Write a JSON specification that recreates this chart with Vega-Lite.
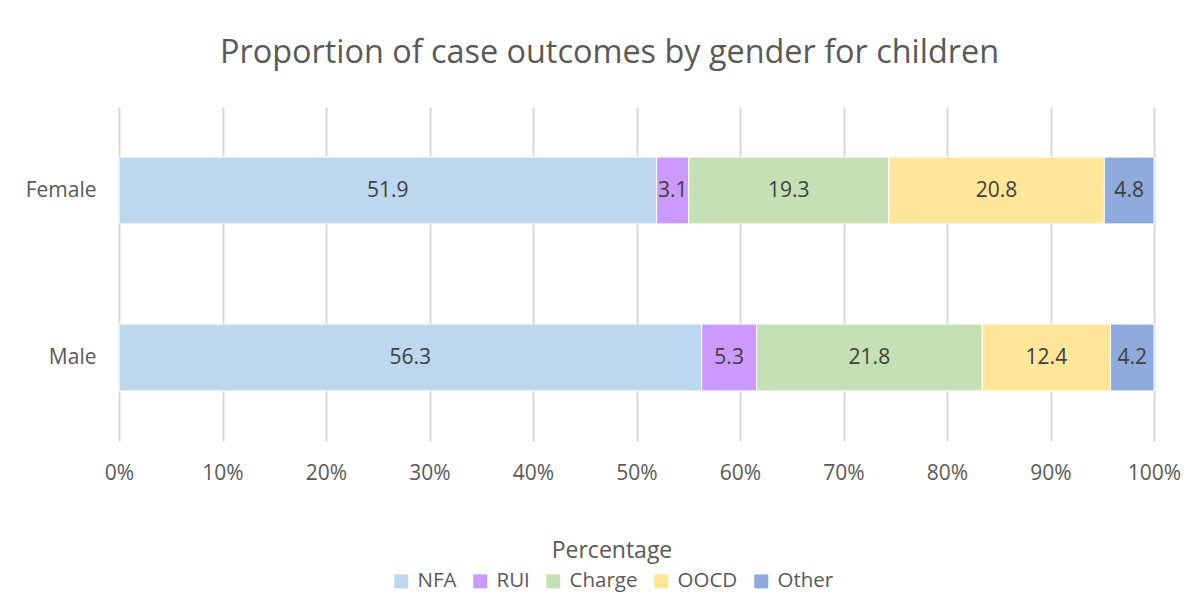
{
  "$schema": "https://vega.github.io/schema/vega-lite/v6.json",
  "autosize": "none",
  "width": 1035,
  "height": 334,
  "padding": {"left": 119, "top": 107, "right": 50, "bottom": 173},
  "background": "white",
  "config": {
    "font": "Open Sans",
    "view": {"stroke": null},
    "axis": {"labelColor": "#595959", "domain": false, "ticks": false}
  },
  "title": {
    "text": "Proportion of case outcomes by gender for children",
    "fontSize": 32.4,
    "font": "Open Sans",
    "fontWeight": "normal",
    "color": "#595959",
    "anchor": "middle",
    "dx": -27,
    "offset": 38
  },
  "data": {
    "values": [
      {"gender": "Female", "outcome": "NFA", "k": 1, "value": 51.9},
      {"gender": "Female", "outcome": "RUI", "k": 2, "value": 3.1},
      {"gender": "Female", "outcome": "Charge", "k": 3, "value": 19.3},
      {"gender": "Female", "outcome": "OOCD", "k": 4, "value": 20.8},
      {"gender": "Female", "outcome": "Other", "k": 5, "value": 4.8},
      {"gender": "Male", "outcome": "NFA", "k": 1, "value": 56.3},
      {"gender": "Male", "outcome": "RUI", "k": 2, "value": 5.3},
      {"gender": "Male", "outcome": "Charge", "k": 3, "value": 21.8},
      {"gender": "Male", "outcome": "OOCD", "k": 4, "value": 12.4},
      {"gender": "Male", "outcome": "Other", "k": 5, "value": 4.2}
    ]
  },
  "encoding": {
    "y": {
      "field": "gender",
      "type": "nominal",
      "sort": ["Female", "Male"],
      "scale": {"paddingInner": 0.6, "paddingOuter": 0.3},
      "axis": {"title": null, "labelFontSize": 21, "labelPadding": 23, "grid": false}
    },
    "order": {"field": "k", "type": "quantitative"}
  },
  "layer": [
    {
      "mark": {"type": "bar", "stroke": "white", "strokeWidth": 1},
      "encoding": {
        "x": {
          "field": "value",
          "type": "quantitative",
          "stack": "normalize",
          "scale": {"domain": [0, 1]},
          "axis": {
            "title": null,
            "format": ".0%",
            "values": [0, 0.1, 0.2, 0.3, 0.4, 0.5, 0.6, 0.7, 0.8, 0.9, 1],
            "labelFontSize": 21,
            "labelPadding": 21,
            "labelFlush": false,
            "labelOverlap": false,
            "grid": true,
            "gridColor": "#D9D9D9",
            "gridWidth": 2
          }
        },
        "color": {
          "field": "outcome",
          "type": "nominal",
          "sort": ["NFA", "RUI", "Charge", "OOCD", "Other"],
          "scale": {
            "domain": ["NFA", "RUI", "Charge", "OOCD", "Other"],
            "range": ["#BDD7EE", "#CC99FF", "#C5E0B4", "#FFE699", "#8FAADC"]
          },
          "legend": {
            "title": "Percentage",
            "orient": "none",
            "legendX": 272,
            "legendY": 433,
            "direction": "horizontal",
            "titleOrient": "top",
            "titleAnchor": "middle",
            "titleFontSize": 23,
            "titleFontWeight": "normal",
            "titleColor": "#595959",
            "titlePadding": 8,
            "labelFontSize": 20.5,
            "labelColor": "#595959",
            "symbolType": "square",
            "symbolSize": 196,
            "symbolStrokeWidth": 0,
            "labelOffset": 6,
            "columnPadding": 13
          }
        }
      }
    },
    {
      "mark": {"type": "text", "fontSize": 21, "color": "#404040"},
      "encoding": {
        "x": {
          "field": "value",
          "type": "quantitative",
          "stack": "normalize",
          "bandPosition": 0.5
        },
        "text": {"field": "value", "type": "quantitative", "format": ".1f"}
      }
    }
  ]
}
